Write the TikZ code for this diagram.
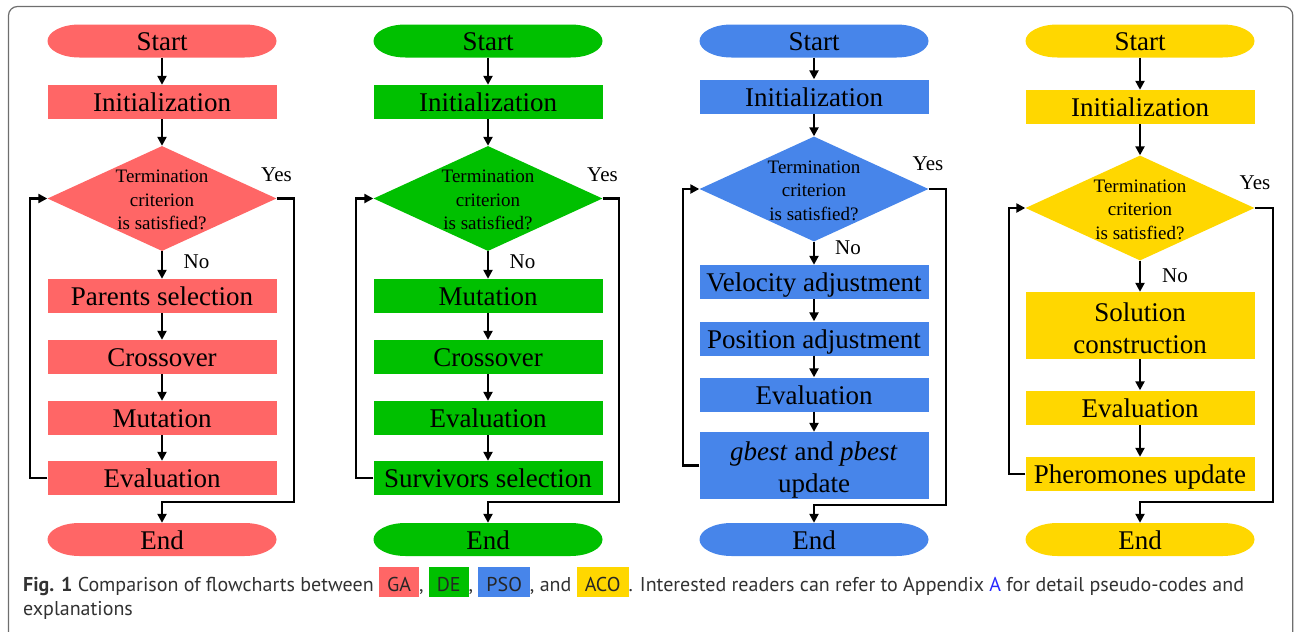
\documentclass[tikz,border=0pt]{standalone}
\usepackage{fontspec}
\setmainfont{Liberation Serif}
\newfontfamily\capfont{PT Sans}
\usetikzlibrary{shapes.geometric,arrows.meta}

\definecolor{gacol}{RGB}{255,102,102}
\definecolor{decol}{RGB}{0,192,0}
\definecolor{psocol}{RGB}{71,133,234}
\definecolor{acocol}{RGB}{255,215,0}
\definecolor{captext}{RGB}{50,50,50}
\definecolor{linkblue}{RGB}{40,40,255}
\definecolor{framegray}{RGB}{110,110,110}

% coloured tag used in the caption
\newcommand\captag[2]{{\setlength{\fboxsep}{0pt}\colorbox{#1}{\rule[-6pt]{0pt}{30pt}\hspace{8pt}\color{black!85}#2\hspace{8pt}}}}

\tikzset{
  bigtext/.style={font=\fontsize{27}{32}\selectfont},
  proc/.style={bigtext, fill=#1, minimum width=229pt, minimum height=34pt,
    inner sep=0pt, text height=22pt, text depth=3pt},
  proctwo/.style={fill=#1, minimum width=229pt, minimum height=67pt, inner sep=0pt},
  twotext/.style={bigtext, align=center, inner sep=0pt},
  term/.style={bigtext, minimum width=229pt, minimum height=33pt, inner sep=0pt,
    text height=22pt, text depth=3pt,
    path picture={\fill[#1]
      ([xshift=32pt]path picture bounding box.north west) --
      ([xshift=-32pt]path picture bounding box.north east)
        arc[start angle=90,end angle=-90,x radius=32pt,y radius=16.5pt] --
      ([xshift=32pt]path picture bounding box.south west)
        arc[start angle=270,end angle=90,x radius=32pt,y radius=16.5pt] -- cycle;}},
  decision/.style={diamond, fill=#1, minimum width=229pt, minimum height=105pt,
    inner sep=0pt},
  dtext/.style={align=center, font=\fontsize{19}{23.5}\selectfont, inner sep=0pt},
  yn/.style={font=\fontsize{21}{24}\selectfont, inner sep=0pt, anchor=base},
  arr/.style={line width=2.7pt, -{Triangle[length=9pt,width=9pt]}},
}

\begin{document}
\begin{tikzpicture}[x=1pt,y=-1pt]
\useasboundingbox (0,0) rectangle (1294,632);
\draw[framegray, line width=1.2pt, rounded corners=9pt] (8.5,6.5) rectangle (1292.8,680);

% ---------------- GA ----------------
\node[term=gacol] (ga0) at (162,41) {Start};
\node[proc=gacol] (ga1) at (162,102) {Initialization};
\node[decision=gacol] (ga2) at (162,198.5) {};
\node[dtext] (ga2t) at (162,200) {Termination\\criterion\\is satisfied?};
\node[proc=gacol] (ga3) at (162,296) {Parents selection};
\node[proc=gacol] (ga4) at (162,357) {Crossover};
\node[proc=gacol] (ga5) at (162,418) {Mutation};
\node[proc=gacol] (ga6) at (162,478) {Evaluation};
\node[term=gacol] (ga7) at (162,539.5) {End};
\node[yn] (gayes) at (276.5,181) {Yes};
\node[yn] (gano) at (196.5,268) {No};
\coordinate (gaL) at (30,0);
\coordinate (gaR) at (294,502);
\draw[arr] (ga0) -- (ga1);
\draw[arr] (ga1) -- (ga2);
\draw[arr] (ga2) -- (ga3);
\draw[arr] (ga3) -- (ga4);
\draw[arr] (ga4) -- (ga5);
\draw[arr] (ga5) -- (ga6);
\draw[arr] (ga6.west) -| (gaL |- ga6.west) |- (ga2.west);
\draw[arr] (ga2.east) -| (gaR) -| (ga7.north);

% ---------------- DE ----------------
\node[term=decol] (de0) at (488,41) {Start};
\node[proc=decol] (de1) at (488,102) {Initialization};
\node[decision=decol] (de2) at (488,198.5) {};
\node[dtext] (de2t) at (488,200) {Termination\\criterion\\is satisfied?};
\node[proc=decol] (de3) at (488,296) {Mutation};
\node[proc=decol] (de4) at (488,357) {Crossover};
\node[proc=decol] (de5) at (488,418) {Evaluation};
\node[proc=decol] (de6) at (488,478) {Survivors selection};
\node[term=decol] (de7) at (488,539.5) {End};
\node[yn] (deyes) at (602.5,181) {Yes};
\node[yn] (deno) at (522.5,268) {No};
\coordinate (deL) at (356,0);
\coordinate (deR) at (619,502);
\draw[arr] (de0) -- (de1);
\draw[arr] (de1) -- (de2);
\draw[arr] (de2) -- (de3);
\draw[arr] (de3) -- (de4);
\draw[arr] (de4) -- (de5);
\draw[arr] (de5) -- (de6);
\draw[arr] (de6.west) -| (deL |- de6.west) |- (de2.west);
\draw[arr] (de2.east) -| (deR) -| (de7.north);

% ---------------- PSO ----------------
\node[term=psocol] (ps0) at (814,41) {Start};
\node[proc=psocol] (ps1) at (814,96.5) {Initialization};
\node[decision=psocol] (ps2) at (814,189) {};
\node[dtext] (ps2t) at (814,190.5) {Termination\\criterion\\is satisfied?};
\node[proc=psocol] (ps3) at (814,282) {Velocity adjustment};
\node[proc=psocol] (ps4) at (814,338.5) {Position adjustment};
\node[proc=psocol] (ps5) at (814,394.5) {Evaluation};
\node[proctwo=psocol] (ps6) at (814,465.5) {};
\node[twotext] (ps6t) at (814,470.5) {\textit{gbest} and \textit{pbest}\\update};
\node[term=psocol] (ps7) at (814,539.5) {End};
\node[yn] (psyes) at (928,170) {Yes};
\node[yn] (psno) at (848,254.5) {No};
\coordinate (psL) at (683,0);
\coordinate (psR) at (946,505);
\draw[arr] (ps0) -- (ps1);
\draw[arr] (ps1) -- (ps2);
\draw[arr] (ps2) -- (ps3);
\draw[arr] (ps3) -- (ps4);
\draw[arr] (ps4) -- (ps5);
\draw[arr] (ps5) -- (ps6);
\draw[arr] (ps6.west) -| (psL |- ps6.west) |- (ps2.west);
\draw[arr] (ps2.east) -| (psR) -| (ps7.north);

% ---------------- ACO ----------------
\node[term=acocol] (ac0) at (1140,41) {Start};
\node[proc=acocol] (ac1) at (1140,107) {Initialization};
\node[decision=acocol] (ac2) at (1140,208) {};
\node[dtext] (ac2t) at (1140,209.5) {Termination\\criterion\\is satisfied?};
\node[proctwo=acocol] (ac3) at (1140,325.5) {};
\node[twotext] (ac3t) at (1140,328) {Solution\\construction};
\node[proc=acocol] (ac4) at (1140,407.5) {Evaluation};
\node[proc=acocol] (ac5) at (1140,474) {Pheromones update};
\node[term=acocol] (ac6) at (1140,539.5) {End};
\node[yn] (acyes) at (1255,189.5) {Yes};
\node[yn] (acno) at (1175,282.5) {No};
\coordinate (acL) at (1009,0);
\coordinate (acR) at (1273,502);
\draw[arr] (ac0) -- (ac1);
\draw[arr] (ac1) -- (ac2);
\draw[arr] (ac2) -- (ac3);
\draw[arr] (ac3) -- (ac4);
\draw[arr] (ac4) -- (ac5);
\draw[arr] (ac5.west) -| (acL |- ac5.west) |- (ac2.west);
\draw[arr] (ac2.east) -| (acR) -| (ac6.north);

% ---------------- caption ----------------
\node[anchor=base west, inner sep=0pt, text=captext,
      font=\capfont\fontsize{20}{25}\selectfont] (cap1) at (23,591)
  {\textbf{Fig. 1} Comparison of flowcharts between \captag{gacol}{GA}, \captag{decol}{DE}, \captag{psocol}{PSO}, and \captag{acocol}{ACO}. Interested readers can refer to Appendix {\color{linkblue}A} for detail pseudo-codes and};
\node[anchor=base west, inner sep=0pt, text=captext,
      font=\capfont\fontsize{20}{25}\selectfont] (cap2) at (23,615) {explanations};
\end{tikzpicture}
\end{document}
